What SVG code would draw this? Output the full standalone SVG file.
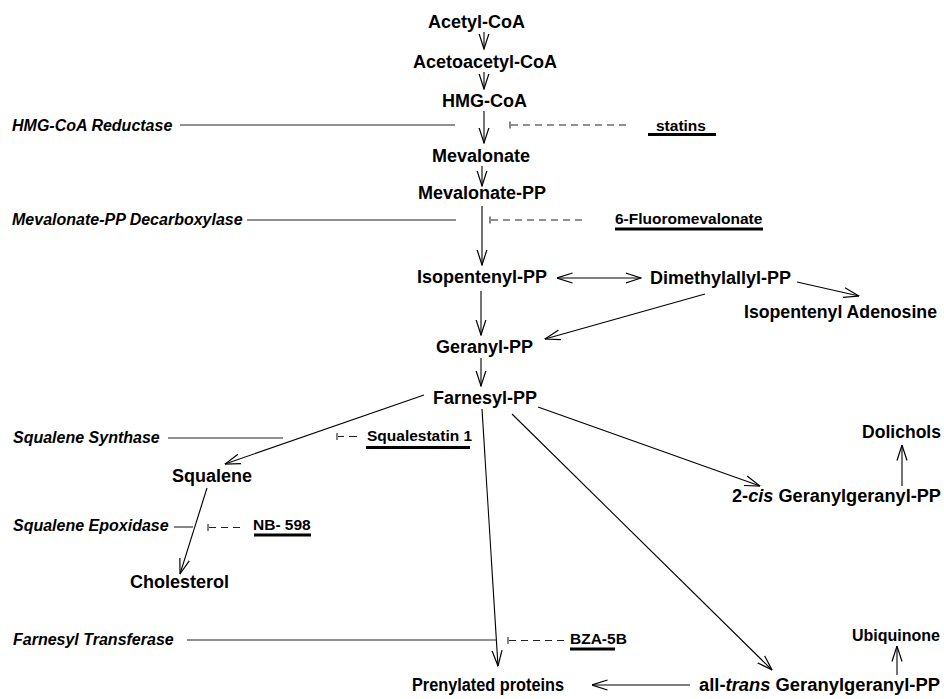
<svg xmlns="http://www.w3.org/2000/svg" width="944" height="699" viewBox="0 0 944 699">
<style>
.n{font-family:"Liberation Sans",Arial,sans-serif;font-weight:bold;font-size:18px;fill:#000}
.e{font-family:"Liberation Sans",Arial,sans-serif;font-weight:bold;font-style:italic;font-size:16px;fill:#000}
.i{font-family:"Liberation Sans",Arial,sans-serif;font-weight:bold;font-size:15.5px;fill:#000}
.a{stroke:#000;stroke-width:1.1;fill:none;marker-end:url(#ah)}
.l{stroke:#222;stroke-width:1.1;fill:none}
.d{stroke:#222;stroke-width:1.1;fill:none;stroke-dasharray:7,5}
.u{stroke:#000;stroke-width:3;fill:none}
</style>
<defs>
<marker id="ah" viewBox="0 0 16 12" refX="15.5" refY="6" markerWidth="16" markerHeight="12" markerUnits="userSpaceOnUse" orient="auto-start-reverse">
<path d="M0,1 L15.5,6 L0,11" fill="none" stroke="#000" stroke-width="1.2"/>
</marker>
</defs>
<rect width="944" height="699" fill="#fff"/>

<g id="connectors">
<line class="a" x1="484" y1="32" x2="484" y2="49"/>
<line class="a" x1="484" y1="72" x2="484" y2="89"/>
<line class="a" x1="484" y1="111" x2="484" y2="143"/>
<line class="a" x1="482" y1="166" x2="482" y2="186"/>
<line class="a" x1="482" y1="206" x2="482" y2="265"/>
<line class="a" x1="557" y1="278" x2="641" y2="278" marker-start="url(#ah)"/>
<line class="a" x1="797" y1="282" x2="859" y2="296"/>
<line class="a" x1="705" y1="294" x2="545" y2="339"/>
<line class="a" x1="481" y1="291" x2="481" y2="335"/>
<line class="a" x1="481" y1="358" x2="481" y2="386"/>
<line class="a" x1="424" y1="395" x2="225" y2="464"/>
<line class="a" x1="482" y1="409" x2="498" y2="666"/>
<line class="a" x1="512" y1="414" x2="772" y2="670"/>
<line class="a" x1="538" y1="407" x2="760" y2="486"/>
<line class="a" x1="207" y1="488" x2="180" y2="574"/>
<line class="a" x1="902" y1="486" x2="902" y2="445"/>
<line class="a" x1="897" y1="675" x2="897" y2="646"/>
<line class="a" x1="690" y1="685" x2="592" y2="685"/>
</g>

<g id="enzymes">
<g id="e-hmgr">
<text class="e" x="12" y="131">HMG-CoA Reductase</text>
<line class="l" x1="180" y1="125" x2="455" y2="125"/>
</g>
<g id="e-mpd">
<text class="e" x="12" y="225">Mevalonate-PP Decarboxylase</text>
<line class="l" x1="247" y1="220" x2="456" y2="220"/>
</g>
<g id="e-sqs">
<text class="e" x="13" y="443">Squalene Synthase</text>
<line class="l" x1="168" y1="438" x2="283" y2="438"/>
</g>
<g id="e-sqe">
<text class="e" x="13" y="531">Squalene Epoxidase</text>
<line class="l" x1="174" y1="527" x2="193" y2="527"/>
</g>
<g id="e-ft">
<text class="e" x="13" y="645">Farnesyl Transferase</text>
<line class="l" x1="187" y1="640" x2="497" y2="640"/>
</g>
</g>

<g id="inhibitors">
<g id="statins">
<line class="l" x1="510" y1="121.5" x2="510" y2="128.5"/>
<line class="d" x1="511" y1="125" x2="628" y2="125"/>
<text class="i" x="656" y="131">statins</text>
<line class="u" x1="648" y1="134.5" x2="716" y2="134.5"/>
</g>
<g id="fluoro">
<line class="l" x1="490" y1="216.5" x2="490" y2="223.5"/>
<line class="d" x1="491" y1="220" x2="586" y2="220"/>
<text class="i" x="615" y="224">6-Fluoromevalonate</text>
<line class="u" x1="615" y1="229" x2="763" y2="229"/>
</g>
<g id="squalestatin">
<line class="l" x1="337" y1="433" x2="337" y2="440"/>
<line class="l" x1="338" y1="436.5" x2="344" y2="436.5"/>
<line class="l" x1="349" y1="436.5" x2="357" y2="436.5"/>
<text class="i" x="367" y="441">Squalestatin 1</text>
<line class="u" x1="366" y1="447.5" x2="470" y2="447.5"/>
</g>
<g id="nb598">
<line class="l" x1="208" y1="524" x2="208" y2="531"/>
<line class="d" x1="209" y1="527.5" x2="244" y2="527.5"/>
<text class="i" x="253" y="530">NB- 598</text>
<line class="u" x1="254" y1="535" x2="311" y2="535"/>
</g>
<g id="bza5b">
<line class="l" x1="508" y1="637" x2="508" y2="644"/>
<line class="d" x1="509" y1="640.5" x2="565" y2="640.5"/>
<text class="i" x="570" y="644">BZA-5B</text>
<line class="u" x1="570" y1="649" x2="615" y2="649"/>
</g>
</g>

<g id="n-acetylcoa"><text class="n" x="428" y="28">Acetyl-CoA</text></g>
<g id="n-acetoacetylcoa"><text class="n" x="413" y="68">Acetoacetyl-CoA</text></g>
<g id="n-hmgcoa"><text class="n" x="442" y="107">HMG-CoA</text></g>
<g id="n-mevalonate"><text class="n" x="432" y="162">Mevalonate</text></g>
<g id="n-mevalonatepp"><text class="n" x="418" y="199">Mevalonate-PP</text></g>
<g id="n-isopentenylpp"><text class="n" x="417" y="283">Isopentenyl-PP</text></g>
<g id="n-dimethylallylpp"><text class="n" x="650" y="284">Dimethylallyl-PP</text></g>
<g id="n-isopentenyladenosine"><text class="n" x="744" y="318" textLength="193" lengthAdjust="spacingAndGlyphs">Isopentenyl Adenosine</text></g>
<g id="n-geranylpp"><text class="n" x="436" y="353">Geranyl-PP</text></g>
<g id="n-farnesylpp"><text class="n" x="433" y="404">Farnesyl-PP</text></g>
<g id="n-squalene"><text class="n" x="172" y="482">Squalene</text></g>
<g id="n-cholesterol"><text class="n" x="130" y="588">Cholesterol</text></g>
<g id="n-dolichols"><text class="n" x="862" y="438" textLength="79" lengthAdjust="spacingAndGlyphs">Dolichols</text></g>
<g id="n-2cisggpp"><text class="n" x="732" y="502" textLength="209" lengthAdjust="spacingAndGlyphs">2-<tspan font-style="italic">cis</tspan> Geranylgeranyl-PP</text></g>
<g id="n-ubiquinone"><text class="n" x="852" y="641" style="font-size:16px">Ubiquinone</text></g>
<g id="n-prenylated"><text class="n" x="412" y="691" textLength="152" lengthAdjust="spacingAndGlyphs">Prenylated proteins</text></g>
<g id="n-alltransggpp"><text class="n" x="699" y="691" textLength="241" lengthAdjust="spacingAndGlyphs">all-<tspan font-style="italic">trans</tspan> Geranylgeranyl-PP</text></g>
</svg>
